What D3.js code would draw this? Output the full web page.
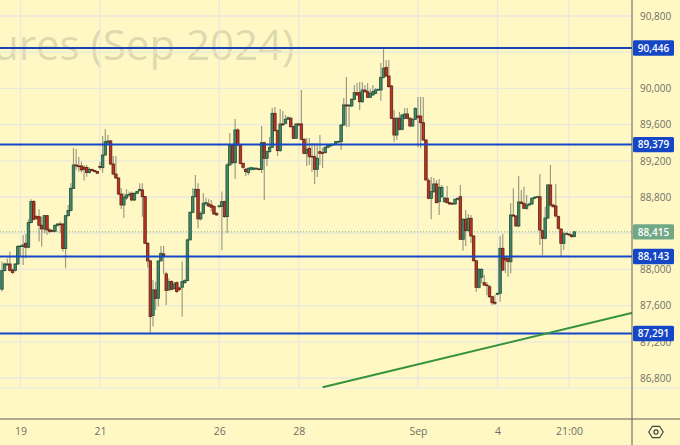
<!DOCTYPE html>
<html><head><meta charset="utf-8">
<script src="https://cdn.jsdelivr.net/npm/d3@7"></script>
<style>html,body{margin:0;padding:0;background:#fff8c4;overflow:hidden}svg{display:block}</style>
</head><body><svg id="c" width="680" height="445"></svg>
<script>
const firstBar=-7;
const opens=[87781,87987,88049,88060,87994,87987,88060,88252,88252,88289,
88245,88517,88749,88583,88583,88488,88447,88594,88436,88429,
88421,88488,88502,88502,88230,88594,88650,88896,89154,89143,
89143,89128,89125,89070,89106,89092,89081,89136,89124,89264,
89397,89419,89165,89054,89010,88833,88712,88789,88822,88841,
88767,88841,88871,88878,88804,88289,88094,87490,87773,87681,
88094,88171,87950,87773,87865,87788,87854,87795,87803,87854,
87876,88326,88631,88804,88885,88558,88620,88724,88723,88712,
88694,88620,88694,88694,88749,88583,89154,89375,89179,89541,
89375,89172,89106,89069,89106,89106,89110,89110,89106,89400,
89228,89301,89349,89725,89533,89312,89607,89614,89659,89670,
89577,89449,89607,89607,89438,89283,89338,89250,89245,89106,
89301,89290,89290,89349,89364,89375,89393,89411,89411,89596,
89817,89806,89806,89880,89953,89953,89853,89982,89964,89902,
89928,89946,89982,89982,90123,90233,90137,90027,89670,89485,
89670,89548,89670,89717,89670,89585,89659,89695,89695,89621,
89430,88980,88786,88859,88944,88748,88803,88748,88786,88737,
88730,88723,88775,88803,88333,88554,88428,88565,88369,88096,
87802,87913,87853,87828,87809,87698,87637,87725,87736,88233,
88126,88123,88085,88601,88590,88480,88745,88730,88675,88712,
88723,88786,88800,88803,88428,88344,88568,88933,88712,88701,
88583,88446,88288,88391,88391,88380,88362];
const closes=[87987,88060,88060,87987,87965,88060,88252,88259,88270,88245,
88517,88749,88554,88565,88488,88447,88594,88436,88421,88421,
88488,88502,88495,88230,88594,88650,88896,89154,89143,89136,
89099,89106,89070,89106,89092,89081,89062,89128,89264,89411,
89419,89165,89054,89010,88833,88712,88800,88822,88830,88767,
88841,88860,88885,88804,88289,88094,87478,87773,87681,88094,
88178,88155,87766,87865,87780,87839,87755,87780,87865,87876,
88326,88631,88804,88885,88558,88620,88731,88738,88701,88687,
88613,88602,88701,88749,88583,89154,89375,89179,89541,89375,
89172,89128,89080,89117,89124,89120,89118,89106,89400,89228,
89301,89349,89725,89533,89312,89607,89596,89659,89676,89577,
89449,89607,89596,89438,89283,89327,89245,89242,89106,89228,
89283,89283,89349,89375,89382,89382,89411,89414,89596,89817,
89806,89815,89880,89953,89928,89853,89982,89964,89902,89946,
89964,89982,89990,90123,90222,90137,90019,89670,89485,89670,
89548,89706,89717,89670,89585,89659,89780,89681,89621,89430,
88988,88786,88859,88944,88737,88907,88907,88789,88737,88723,
88723,88775,88786,88333,88554,88428,88565,88369,88096,87802,
88001,88001,87828,87820,87698,87632,87626,87735,88233,87993,
88104,88085,88601,88590,88480,88745,88730,88675,88712,88723,
88786,88797,88803,88435,88344,88568,88933,88712,88693,88590,
88454,88288,88391,88398,88380,88362,88415];
const highs=[88086,88075,88120,88197,88010,88068,88270,88270,88381,88392,
88554,88775,88768,88602,88664,88583,88602,88602,88454,88440,
88495,88510,88528,88510,88594,88712,88952,89342,89331,89242,
89190,89154,89154,89125,89110,89095,89085,89190,89474,89548,
89485,89430,89253,89253,89020,88900,88844,88888,88860,88860,
88850,88870,88952,88952,88815,88300,88105,87884,87865,88094,
88259,88259,87975,87902,87880,87860,87865,87810,88086,87890,
88340,88640,88896,89044,88952,88640,88841,88790,88775,88768,
88710,88630,88715,88860,88760,89176,89507,89390,89662,89560,
89385,89180,89120,89130,89135,89130,89125,89120,89585,89410,
89310,89463,89784,89795,89545,89773,89750,89706,89690,89688,
89590,89615,89615,89982,89450,89452,89452,89397,89397,89397,
89485,89342,89360,89385,89390,89390,89420,89422,89605,89894,
90126,89825,89890,90038,90060,90071,90071,90038,90060,89995,
90038,90005,89995,90281,90446,90314,90314,90035,89761,89685,
89739,89720,89784,89784,89685,89670,89790,89905,89905,89905,
89440,89010,89021,89010,88988,88999,88933,88800,88922,88745,
88740,88785,88795,88933,88568,88656,88612,88601,88380,88105,
88015,88015,87938,87860,87828,87710,87717,87745,88369,88391,
88140,88140,88730,88896,88600,89032,88877,88914,88822,88740,
88795,88810,88815,89054,88440,88693,88945,89154,88725,88944,
88595,88457,88412,88410,88400,88390,88425];
const lows=[87755,87976,88040,87976,87950,87976,88050,88141,88050,88123,
88233,88510,88539,88547,88307,88252,88399,88381,88399,88410,
88410,88473,88399,88197,88013,88583,88639,88889,89100,89080,
89070,88981,89025,89060,89080,89070,89055,89099,89069,89255,
89390,89150,89040,89000,88820,88668,88568,88767,88800,88750,
88755,88830,88860,88583,88280,88025,87294,87368,87552,87589,
88086,87950,87607,87760,87770,87775,87736,87760,87478,87840,
87870,88320,88620,88795,88454,88540,88610,88700,88690,88640,
88600,88590,88680,88215,88570,88402,89143,89160,88999,89360,
89160,89110,89030,89040,89090,89095,89100,89100,89065,88767,
89143,89290,89340,89520,89253,89300,89590,89605,89650,89565,
89440,89440,89585,89425,89270,89143,89154,89076,88944,89021,
89154,89121,89280,89340,89355,89370,89385,89400,89320,89585,
89574,89574,89795,89870,89915,89761,89840,89950,89890,89890,
89915,89935,89970,89864,90110,90125,90010,89660,89411,89430,
89535,89535,89660,89660,89570,89575,89650,89353,89342,89420,
88980,88775,88554,88844,88730,88601,88790,88735,88725,88712,
88712,88712,88765,88325,88207,88259,88415,88292,88085,87754,
87790,87850,87815,87717,87685,87607,87607,87715,87643,87982,
87960,87920,87957,88580,88470,88465,88720,88665,88660,88700,
88712,88775,88790,88270,88159,88330,88555,88693,88680,88575,
88440,88148,88214,88380,88370,88350,88355];
const dateTickBars=[0,30,75,105,150,180,207];
const dateTickLabels=["19","21","26","28","Sep","4","21:00"];
const priceTicks=[86800,87200,87600,88000,88400,88800,89200,89600,90000,90400,90800];
const levels=[90446,89379,88143,87291];
const lastPrice=88415;
const trendBars=[114,231];
const trendPrices=[86697,87522];
const watermark="ures (Sep 2024)";

const svg=d3.select("#c");
const W=680,H=445,axX=632,plotB=388,axY=419;
const x=d3.scaleLinear().domain([0,207]).range([20.5,569]);
const y=d3.scaleLinear().domain([86800,90800]).range([378,16]);
const font="'Open Sans','Noto Sans',sans-serif";
const fmt=d3.format(",");
svg.append("rect").attr("width",W).attr("height",H).attr("fill","#fff8c4");
const defs=svg.append("defs");
defs.append("filter").attr("id","soft").attr("x","-2%").attr("y","-2%").attr("width","104%").attr("height","104%")
  .append("feGaussianBlur").attr("stdDeviation",0.3);

// watermark
svg.append("text").attr("x",-7).attr("y",60).attr("text-anchor","start")
  .attr("font-family","'Open Sans',sans-serif").attr("font-size",42)
  .attr("fill","#7d7d70").attr("fill-opacity",0.27).text(watermark);

// grid
const grid=svg.append("g").attr("stroke","#e9e8dc").attr("stroke-width",1.3).attr("fill","none");
priceTicks.forEach(p=>grid.append("line").attr("x1",0).attr("x2",axX).attr("y1",y(p)).attr("y2",y(p)));
dateTickBars.forEach(b=>grid.append("line").attr("x1",x(b)).attr("x2",x(b)).attr("y1",0).attr("y2",plotB));
svg.append("line").attr("x1",0).attr("x2",W).attr("y1",plotB).attr("y2",plotB)
  .attr("stroke","#eeecdf").attr("stroke-width",1.3);

// last price dotted line
svg.append("line").attr("x1",0).attr("x2",axX).attr("y1",y(lastPrice)).attr("y2",y(lastPrice))
  .attr("stroke","#7fa989").attr("stroke-width",1).attr("stroke-dasharray","1 2");

// candles
const bars=opens.map((o,i)=>({i:i+firstBar,o,c:closes[i],h:highs[i],l:lows[i]}));
const gc=svg.append("g").attr("filter","url(#soft)");
gc.selectAll("line").data(bars).join("line")
  .attr("x1",d=>x(d.i)).attr("x2",d=>x(d.i))
  .attr("y1",d=>y(d.h)).attr("y2",d=>y(d.l))
  .attr("stroke","#6f6f62").attr("stroke-opacity",0.7).attr("stroke-width",1.15);
gc.selectAll("rect").data(bars).join("rect")
  .attr("x",d=>x(d.i)-1.25).attr("width",2.5)
  .attr("y",d=>Math.min(y(d.o),y(d.c)))
  .attr("height",d=>Math.max(0.7,Math.abs(y(d.o)-y(d.c))))
  .attr("fill",d=>d.c>=d.o?"#47856a":"#bb3526")
  .attr("stroke",d=>d.c>=d.o?"#1c5238":"#611f12").attr("stroke-width",0.8);

// levels
levels.forEach(p=>svg.append("line").attr("x1",0).attr("x2",axX).attr("y1",y(p)).attr("y2",y(p))
  .attr("stroke","#1546c6").attr("stroke-width",2));
svg.append("line").attr("x1",0).attr("x2",axX).attr("y1",y(levels[0])).attr("y2",y(levels[0]))
  .attr("stroke","#2a3a8a").attr("stroke-width",1).attr("stroke-dasharray","1.5 1.5");

// trend
const tl=d3.line().x(d=>x(d[0])).y(d=>y(d[1]));
svg.append("path").attr("d",tl(trendBars.map((b,i)=>[b,trendPrices[i]])))
  .attr("fill","none").attr("stroke","#36923c").attr("stroke-width",2);

// axis panels
svg.append("rect").attr("x",axX).attr("y",0).attr("width",W-axX).attr("height",plotB).attr("fill","#fff8c4");
svg.append("line").attr("x1",axX).attr("x2",W).attr("y1",plotB).attr("y2",plotB).attr("stroke","#eeecdf").attr("stroke-width",1.3);
svg.append("rect").attr("x",0).attr("y",plotB+0.7).attr("width",W).attr("height",H-plotB).attr("fill","#fff8c4");

// axes via d3
const yAx=svg.append("g").attr("transform",`translate(${axX},0)`)
  .call(d3.axisRight(y).tickValues(priceTicks.filter(p=>p!==90400&&p!==88400)).tickFormat(fmt).tickSize(0).tickPadding(8));
yAx.select(".domain").remove();
yAx.selectAll("text").attr("font-family",font).attr("font-size",10).attr("fill","#6f6f66");
const xAx=svg.append("g").attr("transform",`translate(0,${axY})`)
  .call(d3.axisBottom(x).tickValues(dateTickBars).tickFormat((d,i)=>dateTickLabels[i]).tickSize(0).tickPadding(9));
xAx.select(".domain").remove();
xAx.selectAll("text").attr("font-family",font).attr("font-size",10.5).attr("fill","#6f6f66");

svg.append("line").attr("x1",0).attr("x2",W).attr("y1",axY).attr("y2",axY).attr("stroke","#5f5f52").attr("stroke-width",1);
svg.append("line").attr("x1",axX).attr("x2",axX).attr("y1",0).attr("y2",H).attr("stroke","#5f5f52").attr("stroke-width",1);

// price labels
function label(p,fill){
  const g=svg.append("g").attr("transform",`translate(${axX+1},${y(p)})`);
  g.append("rect").attr("x",0).attr("y",-7.7).attr("width",41).attr("height",15.4).attr("rx",1.5).attr("fill",fill);
  g.append("text").attr("x",20.5).attr("y",3.7).attr("text-anchor","middle")
    .attr("font-family",font).attr("font-size",10).attr("font-weight",600).attr("fill","#fff").text(fmt(p));
}
label(lastPrice,"#71a886");
levels.forEach(p=>label(p,"#1546c6"));

// settings icon
const hex=d3.range(6).map(k=>{const a=k*Math.PI/3;return [656+7.2*Math.cos(a),432+6.6*Math.sin(a)];});
svg.append("path").attr("d",d3.line()(hex)+"Z").attr("fill","none").attr("stroke","#444").attr("stroke-width",1.2);
svg.append("circle").attr("cx",656).attr("cy",432).attr("r",2.1).attr("fill","none").attr("stroke","#444").attr("stroke-width",1.2);
</script></body></html>
